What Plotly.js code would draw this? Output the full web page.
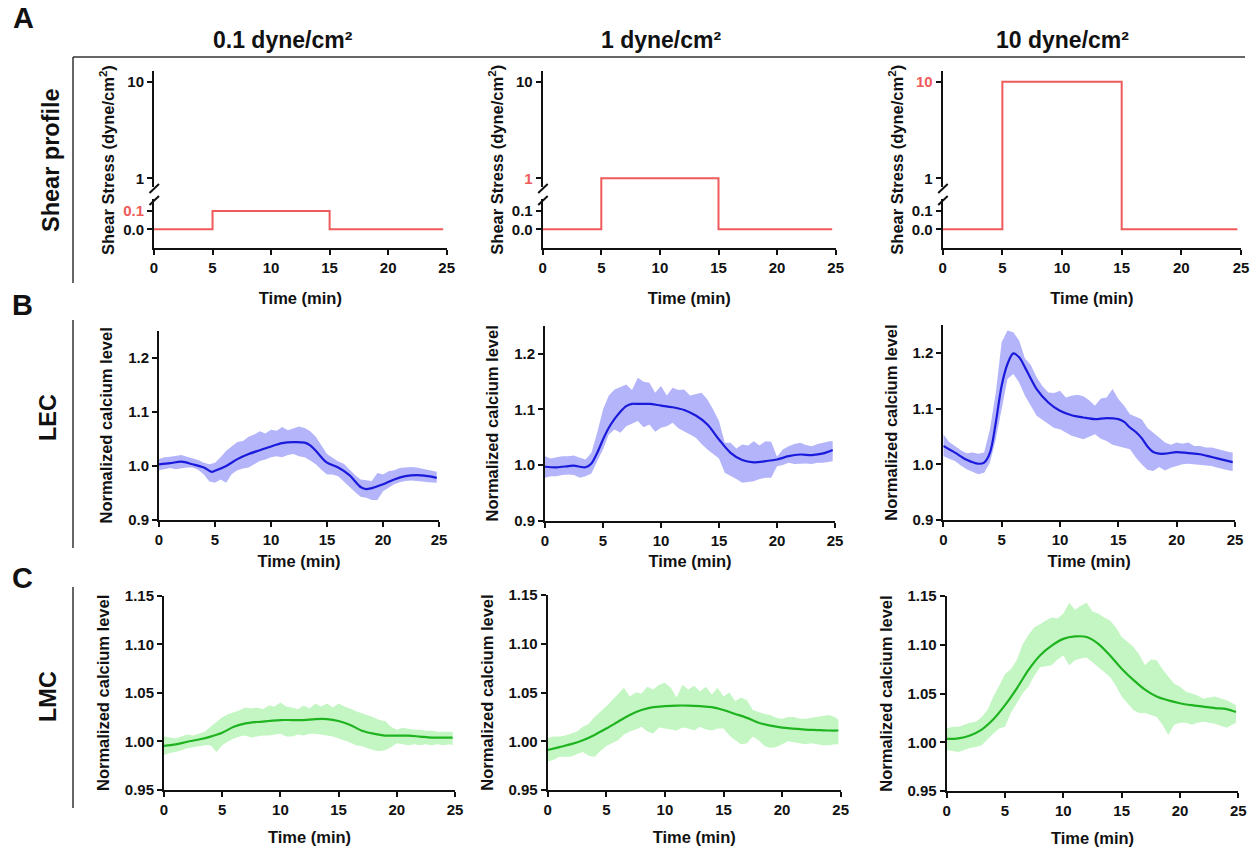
<!DOCTYPE html>
<html><head><meta charset="utf-8">
<script src="https://cdn.plot.ly/plotly-3.0.1.min.js"></script>
<style>html,body{margin:0;padding:0;background:#fff;}#chart{width:1256px;height:848px;}</style>
</head><body><div id="chart"></div>
<script>
// ---------------- DATA ----------------
const shearLabels = ['0.1 dyne/cm²', '1 dyne/cm²', '10 dyne/cm²'];
const rowLabels = ['Shear profile', 'LEC', 'LMC'];
const panelLetters = ['A', 'B', 'C'];
const timeTicks = [0, 5, 10, 15, 20, 25];

// shear step profiles
const shearTime = [0, 5, 5, 15, 15, 24.7];
const shear01 = [0, 0, 0.1, 0.1, 0, 0];
const shear1 = [0, 0, 1, 1, 0, 0];
const shear10 = [0, 0, 10, 10, 0, 0];

// common time grid for the SEM bands (min)
const bandTime = [0,0.5,1,1.5,2,2.5,3,3.5,4,4.5,5,5.5,6,6.5,7,7.5,8,8.5,9,9.5,10,10.5,11,11.5,12,12.5,13,13.5,14,14.5,15,15.5,16,16.5,17,17.5,18,18.5,19,19.5,20,20.5,21,21.5,22,22.5,23,23.5,24,24.5,24.8];

// LEC, 0.1 dyne/cm2
const lec01MeanT = [0,1,2,3,4,4.7,5,6,7,8,9,10,11,12,13,13.5,14,14.5,15,16,17,18,18.5,19,20,21,22,23,24,24.8];
const lec01Mean = [1.003,1.005,1.008,1.003,0.997,0.989,0.991,1.000,1.0125,1.022,1.029,1.036,1.042,1.044,1.043,1.038,1.028,1.016,1.006,0.997,0.983,0.961,0.957,0.959,0.966,0.975,0.981,0.983,0.981,0.978];
const lec01Upper = [1.013,1.016,1.017,1.019,1.020,1.017,1.014,1.011,1.006,1.003,
  1.006,1.016,1.028,1.036,1.044,1.046,1.054,1.058,1.064,1.060,
  1.067,1.065,1.072,1.066,1.069,1.073,1.070,1.064,1.054,1.038,
  1.022,1.015,1.008,1.004,0.994,0.983,0.975,0.974,0.972,0.987,
  0.984,0.990,0.992,0.996,0.997,0.998,0.997,0.995,0.992,0.990,0.989];
const lec01Lower = [0.992,0.994,0.996,0.994,0.995,0.997,0.997,0.993,0.984,0.971,
  0.969,0.975,0.969,0.985,0.992,0.995,0.997,1.003,1.009,1.012,
  1.016,1.018,1.016,1.020,1.022,1.018,1.016,1.010,1.003,0.993,
  0.984,0.984,0.981,0.972,0.962,0.952,0.943,0.941,0.937,0.937,
  0.953,0.960,0.966,0.970,0.972,0.973,0.972,0.971,0.970,0.969,0.969];

// LEC, 1 dyne/cm2
const lec1MeanT = [0,1,2,2.5,3,3.5,4,4.5,5,5.5,6,6.5,7,7.5,8,9,10,11,12,13,14,15,16,17,18,19,20,21,22,23,24,24.8];
const lec1Mean = [0.997,0.996,0.998,0.999,0.997,0.996,1.003,1.022,1.046,1.067,1.083,1.096,1.106,1.110,1.110,1.110,1.107,1.104,1.099,1.089,1.073,1.046,1.022,1.009,1.005,1.007,1.010,1.016,1.019,1.018,1.021,1.027];
const lec1Upper = [1.016,1.012,1.014,1.016,1.016,1.017,1.013,1.010,1.022,1.058,
  1.100,1.125,1.136,1.140,1.145,1.135,1.157,1.150,1.148,1.130,
  1.142,1.125,1.139,1.135,1.136,1.125,1.127,1.130,1.118,1.100,
  1.079,1.040,1.040,1.030,1.037,1.035,1.043,1.035,1.043,1.042,
  1.015,1.028,1.034,1.038,1.040,1.036,1.034,1.038,1.040,1.043,1.043];
const lec1Lower = [0.977,0.980,0.980,0.982,0.983,0.982,0.977,0.980,0.985,1.007,
  1.028,1.055,1.064,1.058,1.070,1.075,1.079,1.068,1.073,1.060,
  1.067,1.070,1.076,1.066,1.061,1.055,1.049,1.038,1.028,1.020,
  1.012,0.986,0.980,0.975,0.968,0.970,0.971,0.975,0.977,0.977,
  0.998,1.000,1.004,1.002,1.002,1.003,1.002,1.004,1.004,1.006,1.007];

// LEC, 10 dyne/cm2
const lec10MeanT = [0,1,2,3,3.5,4,4.5,5,5.5,6,6.5,7,8,9,10,11,12,13,14,15,15.5,16,16.5,17,17.5,18,18.5,19,20,21,22,23,24,24.8];
const lec10Mean = [1.033,1.021,1.008,1.001,1.003,1.021,1.075,1.141,1.180,1.199,1.192,1.174,1.135,1.111,1.096,1.088,1.084,1.081,1.083,1.081,1.076,1.066,1.058,1.047,1.032,1.022,1.019,1.019,1.022,1.020,1.018,1.013,1.008,1.004];
const lec10Upper = [1.054,1.040,1.033,1.025,1.020,1.021,1.019,1.021,1.063,1.129,
  1.219,1.240,1.237,1.222,1.190,1.178,1.156,1.140,1.129,1.128,
  1.132,1.120,1.123,1.125,1.122,1.115,1.105,1.118,1.120,1.135,
  1.117,1.105,1.090,1.085,1.081,1.065,1.057,1.048,1.039,1.035,
  1.039,1.037,1.039,1.033,1.033,1.030,1.030,1.027,1.024,1.022,1.021];
const lec10Lower = [1.015,1.010,1.006,0.998,0.991,0.986,0.982,0.985,1.003,1.045,
  1.099,1.153,1.162,1.147,1.123,1.105,1.087,1.080,1.072,1.065,
  1.063,1.057,1.051,1.048,1.045,1.050,1.054,1.046,1.042,1.035,
  1.033,1.030,1.027,1.012,1.000,0.990,0.988,0.995,0.989,0.994,
  0.997,1.000,1.001,1.000,1.000,0.998,0.997,0.994,0.991,0.989,0.988];

// LMC (1-min sampled means)
const lmcMeanT = [0,1,2,3,4,5,6,7,8,9,10,11,12,13,14,15,16,17,18,19,20,21,22,23,24,24.8];
const lmc01Mean = [0.9955,0.997,0.9997,1.002,1.005,1.009,1.015,1.0185,1.020,1.021,1.022,1.022,1.022,1.023,1.023,1.021,1.017,1.011,1.008,1.006,1.006,1.006,1.005,1.004,1.004,1.004];
const lmc01Upper = [1.005,1.004,1.003,1.005,1.007,1.006,1.008,1.010,1.015,1.020,
  1.025,1.028,1.030,1.032,1.035,1.034,1.035,1.033,1.037,1.036,
  1.040,1.036,1.035,1.033,1.037,1.034,1.039,1.036,1.039,1.035,
  1.039,1.036,1.034,1.031,1.029,1.027,1.025,1.022,1.021,1.015,
  1.012,1.014,1.013,1.012,1.012,1.011,1.011,1.010,1.010,1.010,1.010];
const lmc01Lower = [0.986,0.988,0.989,0.991,0.993,0.994,0.995,0.996,0.996,0.989,
  0.996,1.000,1.003,1.005,1.006,1.004,1.005,1.006,1.006,1.007,
  1.008,1.005,1.005,1.007,1.006,1.008,1.008,1.007,1.006,1.005,
  1.003,1.001,0.999,0.996,0.995,0.993,0.991,0.990,0.991,0.994,
  0.998,0.997,0.996,0.997,0.996,0.997,0.996,0.997,0.996,0.997,0.996];

const lmc1Mean = [0.991,0.994,0.997,1.001,1.0065,1.013,1.020,1.027,1.032,1.035,1.036,1.0366,1.0366,1.036,1.035,1.032,1.028,1.024,1.019,1.016,1.014,1.013,1.012,1.0115,1.011,1.011];
const lmc1Upper = [1.003,1.005,1.005,1.006,1.008,1.010,1.015,1.018,1.025,1.030,
  1.036,1.042,1.049,1.055,1.046,1.050,1.049,1.056,1.053,1.058,
  1.060,1.055,1.045,1.058,1.053,1.057,1.051,1.056,1.048,1.055,
  1.046,1.050,1.041,1.045,1.042,1.032,1.030,1.028,1.027,1.024,
  1.023,1.025,1.025,1.023,1.023,1.024,1.025,1.026,1.027,1.025,1.022];
const lmc1Lower = [0.979,0.981,0.984,0.984,0.984,0.987,0.989,0.985,0.984,0.990,
  0.995,0.998,1.001,1.007,1.010,1.012,1.015,1.010,1.008,1.014,
  1.013,1.012,1.011,1.014,1.013,1.011,1.015,1.012,1.011,1.013,
  1.013,1.006,1.001,0.997,0.998,1.005,1.001,0.995,0.993,0.994,
  0.997,1.000,0.999,0.998,0.997,0.998,0.997,0.996,0.996,0.997,0.997];

const lmc10Mean = [1.0034,1.004,1.007,1.013,1.0235,1.038,1.055,1.074,1.089,1.099,1.106,1.1085,1.108,1.101,1.089,1.0755,1.064,1.054,1.047,1.043,1.040,1.038,1.0365,1.035,1.034,1.031];
const lmc10Upper = [1.014,1.016,1.016,1.018,1.020,1.021,1.026,1.033,1.047,1.058,
  1.070,1.075,1.084,1.100,1.110,1.118,1.121,1.125,1.128,1.127,
  1.132,1.143,1.136,1.140,1.143,1.134,1.132,1.128,1.125,1.118,
  1.108,1.103,1.098,1.090,1.079,1.085,1.084,1.075,1.067,1.060,
  1.057,1.052,1.050,1.048,1.045,1.046,1.047,1.045,1.043,1.040,1.038];
const lmc10Lower = [0.992,0.991,0.990,0.992,0.994,0.995,0.997,1.003,1.009,1.014,
  1.016,1.030,1.040,1.050,1.057,1.068,1.077,1.078,1.079,1.085,
  1.089,1.079,1.084,1.086,1.087,1.083,1.077,1.072,1.067,1.058,
  1.047,1.040,1.033,1.030,1.030,1.028,1.026,1.018,1.0075,1.018,
  1.020,1.020,1.018,1.020,1.021,1.020,1.019,1.017,1.015,1.018,1.020];

// ---------------- STYLE / LAYOUT ----------------
const W = 1256, H = 848;
const fx = p => p / W;
const fy = p => 1 - p / H;
const FONT = '"Liberation Sans", Arial, sans-serif';
const INK = '#111111';
const RED = '#ef5a5a';
const BLUE = '#1a1adc';
const BLUE_BAND = '#b4b4fa';
const GREEN = '#1fb41f';
const GREEN_BAND = '#c4f6c4';

const tickFont = {family: FONT, size: 15, weight: 'bold', color: INK};
const titleFont = {family: FONT, size: 16.5, weight: 'bold', color: INK};
const xTitleFont = {family: FONT, size: 16.5, weight: 'bold', color: INK};

function axName(id) { return id.charAt(0) + 'axis' + id.slice(1); }

function baseAxis() {
  return {showline: true, linewidth: 2, linecolor: INK, ticks: 'outside', ticklen: 5, tickwidth: 2,
          tickcolor: INK, showgrid: false, zeroline: false, tickfont: tickFont, fixedrange: true};
}
function xAxis(x0, x1, anchor, standoff) {
  return Object.assign(baseAxis(), {domain: [fx(x0), fx(x1)], anchor: anchor, range: [0, 25],
    tickvals: timeTicks, ticktext: timeTicks.map(String),
    title: {text: 'Time (min)', font: xTitleFont, standoff: standoff}});
}

const traces = [];
const layout = {width: W, height: H, margin: {l: 0, r: 0, t: 0, b: 0}, paper_bgcolor: '#ffffff',
  plot_bgcolor: 'rgba(0,0,0,0)', showlegend: false, font: {family: FONT, color: INK},
  annotations: [], shapes: []};

// ---- Row A: shear profiles with broken y axis ----
const shearSets = [shear01, shear1, shear10];
const rowA = [
  {x: 'x', yl: 'y', yu: 'y2', x0: 154, x1: 446.7, red: 0},
  {x: 'x2', yl: 'y3', yu: 'y4', x0: 542.7, x1: 835.7, red: 1},
  {x: 'x3', yl: 'y5', yu: 'y6', x0: 942.7, x1: 1241, red: 10}
];
const redSpan = t => '<span style="color:' + RED + '">' + t + '</span>';
rowA.forEach((p, i) => {
  layout[axName(p.x)] = xAxis(p.x0, p.x1, p.yl, 17);
  layout[axName(p.yl)] = Object.assign(baseAxis(), {domain: [fy(248.3), fy(193)], anchor: p.x,
    range: [-0.1038, 0.198], tickvals: [0, 0.1],
    ticktext: ['0.0', p.red === 0 ? redSpan('0.1') : '0.1']});
  layout[axName(p.yu)] = Object.assign(baseAxis(), {domain: [fy(193), fy(70.7)], anchor: p.x,
    type: 'log', range: [-0.152, 1.114], tickvals: [1, 10],
    ticktext: [p.red === 1 ? redSpan('1') : '1', p.red === 10 ? redSpan('10') : '10']});
  [p.yl, p.yu].forEach(ya => traces.push({type: 'scatter', mode: 'lines', x: shearTime, y: shearSets[i],
    xaxis: p.x, yaxis: ya, line: {color: RED, width: 2}, hoverinfo: 'skip'}));
  // y title spanning the broken axis
  layout.annotations.push({xref: 'paper', yref: 'paper', x: fx(p.x0 - 47), y: fy(160), textangle: -90,
    text: 'Shear Stress (dyne/cm<sup>2</sup>)', showarrow: false, font: titleFont,
    xanchor: 'center', yanchor: 'middle'});
  // axis break: gap + two slashes
  layout.shapes.push({type: 'rect', xref: 'paper', yref: 'paper', x0: fx(p.x0 - 4), x1: fx(p.x0 + 4),
    y0: fy(199), y1: fy(187), fillcolor: '#ffffff', line: {width: 0}, layer: 'above'});
  [[193, 184], [205, 196]].forEach(s => layout.shapes.push({type: 'line', xref: 'paper', yref: 'paper',
    x0: fx(p.x0 - 4.5), y0: fy(s[0]), x1: fx(p.x0 + 5), y1: fy(s[1]), line: {color: INK, width: 2}, layer: 'above'}));
  // column header
  layout.annotations.push({xref: 'paper', yref: 'paper', x: fx([283, 661, 1062][i]), y: fy(40),
    text: shearLabels[i], showarrow: false, font: {family: FONT, size: 23, weight: 'bold', color: INK},
    xanchor: 'center', yanchor: 'middle'});
});

// ---- Rows B and C: calcium responses ----
const calcium = [
  {x: 'x4', y: 'y7', x0: 159, x1: 439, yb: 520, yt: 330.7, t: lec01MeanT, m: lec01Mean, u: lec01Upper, l: lec01Lower, row: 'B'},
  {x: 'x5', y: 'y8', x0: 545, x1: 835, yb: 520.7, yt: 326, t: lec1MeanT, m: lec1Mean, u: lec1Upper, l: lec1Lower, row: 'B'},
  {x: 'x6', y: 'y9', x0: 943.3, x1: 1235, yb: 520, yt: 325, t: lec10MeanT, m: lec10Mean, u: lec10Upper, l: lec10Lower, row: 'B'},
  {x: 'x7', y: 'y10', x0: 164, x1: 455, yb: 790, yt: 595.7, t: lmcMeanT, m: lmc01Mean, u: lmc01Upper, l: lmc01Lower, row: 'C'},
  {x: 'x8', y: 'y11', x0: 547.7, x1: 840.7, yb: 790, yt: 595, t: lmcMeanT, m: lmc1Mean, u: lmc1Upper, l: lmc1Lower, row: 'C'},
  {x: 'x9', y: 'y12', x0: 946.7, x1: 1238.3, yb: 791, yt: 596, t: lmcMeanT, m: lmc10Mean, u: lmc10Upper, l: lmc10Lower, row: 'C'}
];
const lecTicks = [0.9, 1.0, 1.1, 1.2];
const lmcTicks = [0.95, 1.00, 1.05, 1.10, 1.15];
calcium.forEach(p => {
  const isB = p.row === 'B';
  layout[axName(p.x)] = xAxis(p.x0, p.x1, p.y, isB ? 8 : 14);
  const tv = isB ? lecTicks : lmcTicks;
  layout[axName(p.y)] = Object.assign(baseAxis(), {domain: [fy(p.yb), fy(p.yt)], anchor: p.x,
    range: isB ? [0.9, 1.25] : [0.95, 1.15], tickvals: tv,
    ticktext: tv.map(v => v.toFixed(isB ? 1 : 2)),
    title: {text: 'Normalized calcium level', font: titleFont, standoff: 11}});
  const lineC = isB ? BLUE : GREEN, bandC = isB ? BLUE_BAND : GREEN_BAND;
  traces.push({type: 'scatter', mode: 'lines', x: bandTime.concat(bandTime.slice().reverse()),
    y: p.u.concat(p.l.slice().reverse()), fill: 'toself', fillcolor: bandC,
    line: {width: 0, color: bandC}, xaxis: p.x, yaxis: p.y, hoverinfo: 'skip'});
  traces.push({type: 'scatter', mode: 'lines', x: p.t, y: p.m, xaxis: p.x, yaxis: p.y,
    line: {color: lineC, width: 2.2, shape: 'spline', smoothing: 0.9}, hoverinfo: 'skip'});
});

// ---- Frame: header rule, row brackets, row labels, panel letters ----
layout.shapes.push({type: 'line', xref: 'paper', yref: 'paper', x0: fx(73), x1: fx(1245), y0: fy(57), y1: fy(57),
  line: {color: '#333333', width: 1.5}});
[[57, 283], [320, 548], [587, 808]].forEach(b => layout.shapes.push({type: 'line', xref: 'paper', yref: 'paper',
  x0: fx(73), x1: fx(73), y0: fy(b[0]), y1: fy(b[1]), line: {color: '#333333', width: 1.5}}));
[[51, 160], [48, 418], [48, 697]].forEach((c, i) => layout.annotations.push({xref: 'paper', yref: 'paper',
  x: fx(c[0]), y: fy(c[1]), text: rowLabels[i], textangle: -90, showarrow: false,
  font: {family: FONT, size: 23.5, weight: 'bold', color: INK}, xanchor: 'center', yanchor: 'middle'}));
[[23, 18], [22, 305], [22, 578]].forEach((c, i) => layout.annotations.push({xref: 'paper', yref: 'paper',
  x: fx(c[0]), y: fy(c[1]), text: panelLetters[i], showarrow: false,
  font: {family: FONT, size: 29, weight: 'bold', color: INK}, xanchor: 'center', yanchor: 'middle'}));

Plotly.newPlot('chart', traces, layout, {staticPlot: true, displayModeBar: false});
</script></body></html>
